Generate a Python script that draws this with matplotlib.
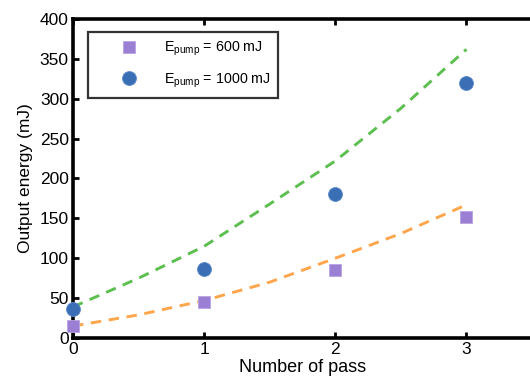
import matplotlib
matplotlib.use("Agg")
import matplotlib.pyplot as plt

plt.rcParams['font.family'] = ['Liberation Sans', 'DejaVu Sans']
plt.rcParams['mathtext.fontset'] = 'custom'
plt.rcParams['mathtext.rm'] = 'Liberation Sans'
plt.rcParams['mathtext.it'] = 'Liberation Sans:italic'

# Measured data
passes = [0, 1, 2, 3]
e600 = [15, 45, 85, 152]
e1000 = [36, 86, 180, 320]

# Simulated curves
sim_x = [0, 0.5, 1, 1.5, 2, 2.5, 3]
sim_600 = [15, 29, 47, 70, 100, 131, 167]
sim_1000 = [39, 75, 115, 168, 222, 288, 362]

fig = plt.figure(figsize=(5.3, 3.83), dpi=100)
ax = fig.add_axes([73 / 530, 1 - 338 / 383, (532 - 73) / 530, (338 - 19) / 383])

ax.plot(sim_x, sim_1000, '--', color='#5cbf4f', lw=2.1, dashes=(3.6, 2.6))
ax.plot(sim_x, sim_600, '--', color='#ffa64d', lw=2.1, dashes=(3.6, 2.6))
ax.plot(passes, e600, 's', color='#9b7fd4', ms=9, mec='#b8a4e2', mew=0.6,
        label=r'E$_{\mathrm{pump}}$ = 600 mJ', clip_on=False, zorder=3)
ax.plot(passes, e1000, 'o', color='#3a6fb5', ms=10, mec='#5a8ac8', mew=0.6,
        label=r'E$_{\mathrm{pump}}$ = 1000 mJ', clip_on=False, zorder=3)

ax.set_xlim(0, 3.5)
ax.set_ylim(0, 400)
ax.set_xticks(passes)
ax.set_yticks(range(0, 401, 50))
ax.tick_params(direction='in', length=4, width=2, labelsize=12.5, top=True,
               right=False, pad=3)
for s in ['left', 'bottom', 'top']:
    ax.spines[s].set_linewidth(2.6)
ax.spines['right'].set_visible(False)

ax.set_xlabel('Number of pass', fontsize=13, labelpad=1)
ax.set_ylabel('Output energy (mJ)', fontsize=12.5, labelpad=5)

leg = ax.legend(loc='upper left', bbox_to_anchor=(0.033, 0.96), fontsize=10.3,
                frameon=True, fancybox=False, edgecolor='black',
                handletextpad=0.12, borderpad=0.55, labelspacing=0.95,
                handlelength=4.6, borderaxespad=0)
leg.get_frame().set_linewidth(1.6)

fig.savefig('out.png', dpi=100)
